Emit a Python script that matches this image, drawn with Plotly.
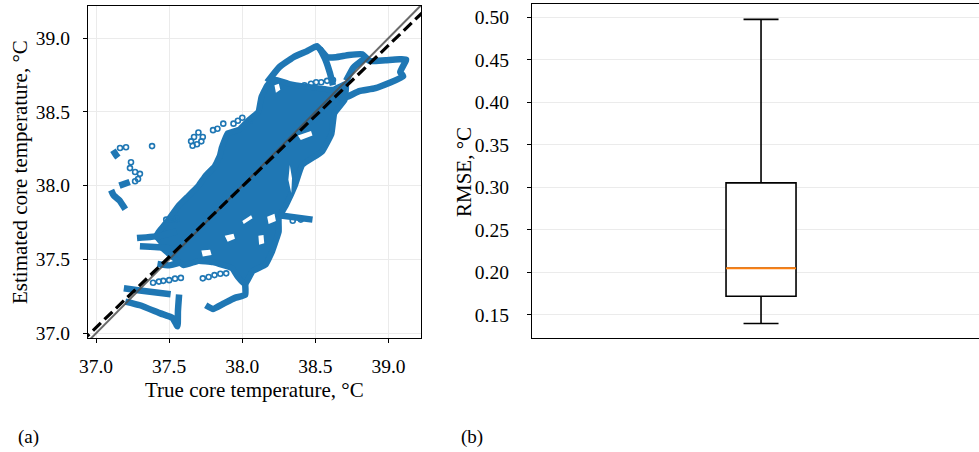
import plotly.graph_objects as go

BLUE = "#1f77b4"

# ---------------- panel (a) data ----------------
# dense core region of the scatter (outline of overlapping trajectories)
core_x = [37.40, 37.43, 37.48, 37.56, 37.62, 37.70, 37.75, 37.81, 37.845, 37.86, 37.90, 37.98, 38.04, 38.11,
          38.13, 38.17, 38.22, 38.32, 38.45, 38.62, 38.71, 38.70, 38.63, 38.61, 38.545, 38.41, 38.36, 38.30,
          38.25, 38.25, 38.205, 38.16, 38.07, 38.02, 37.97, 37.93, 37.80, 37.70, 37.60, 37.52, 37.45]
core_y = [37.64, 37.69, 37.75, 37.86, 37.92, 38.00, 38.07, 38.13, 38.20, 38.26, 38.355, 38.38, 38.44, 38.50,
          38.60, 38.68, 38.72, 38.69, 38.67, 38.65, 38.69, 38.58, 38.49, 38.35, 38.23, 38.14, 38.00, 37.87,
          37.78, 37.69, 37.555, 37.465, 37.42, 37.33, 37.38, 37.44, 37.48, 37.49, 37.46, 37.52, 37.58]

# empty pockets inside the dense region, separated by None
gap_x = [38.325, 38.34, 38.335, 38.315, None,
         38.17, 38.22, 38.23, 38.18, None,
         37.88, 37.94, 37.95, 37.90, None,
         38.38, 38.47, 38.48, 38.40, None,
         38.11, 38.145, 38.15, 38.115, None,
         37.72, 37.78, 37.79, 37.73, None,
         38.22, 38.25, 38.26, 38.23, None,
         38.00, 38.06, 38.07, 38.01]
gap_y = [38.14, 38.05, 37.95, 38.04, None,
         37.79, 37.81, 37.76, 37.74, None,
         37.66, 37.675, 37.64, 37.62, None,
         38.34, 38.37, 38.34, 38.31, None,
         37.66, 37.665, 37.61, 37.60, None,
         37.56, 37.565, 37.53, 37.52, None,
         38.68, 38.69, 38.65, 38.63, None,
         37.76, 37.80, 37.78, 37.74]

# trajectories (dense runs of points), separated by None
traj_x = [38.02, 38.02, 37.95, 37.87, 37.80, 37.75, None,
          38.25, 38.48, None,
          37.28, 37.44, 37.55, None,
          37.30, 37.48, 37.56, None,
          37.42, 37.50, 37.58, None,
          37.20, 37.30, 37.44, 37.523, 37.557, 37.56, 37.568, None,
          37.19, 37.30, 37.51, None,
          38.17, 38.25, 38.35, 38.44, 38.51, 38.58, 38.64, 38.73, 38.82, 38.87, 38.98, 39.12, 39.08, 39.10,
          38.91, 38.80, 38.71, 38.66, None,
          38.85, 38.76, 38.71, None,
          38.53, 38.57, 38.60, 38.62, None,
          37.103, 37.12, 37.16, 37.20, None,
          37.16, 37.23, None,
          37.116, 37.137, 37.15]
traj_y = [37.33, 37.26, 37.24, 37.20, 37.165, 37.19, None,
          37.80, 37.77, None,
          37.645, 37.66, 37.69, None,
          37.59, 37.58, 37.56, None,
          37.47, 37.46, 37.48, None,
          37.215, 37.19, 37.135, 37.104, 37.047, 37.15, 37.262, None,
          37.305, 37.29, 37.265, None,
          38.70, 38.80, 38.87, 38.91, 38.945, 38.87, 38.87, 38.885, 38.89, 38.845, 38.85, 38.855, 38.77, 38.74,
          38.66, 38.64, 38.60, 38.60, None,
          38.87, 38.80, 38.71, None,
          38.93, 38.85, 38.76, 38.68, None,
          37.97, 37.935, 37.90, 37.84, None,
          38.00, 38.025, None,
          38.24, 38.207, 38.19]

# isolated (sparse) points
sparse_x = [37.164, 37.205, 37.383, 37.239, 37.232, 37.267, 37.30, 37.287, 37.267,
            37.65, 37.67, 37.70, 37.72, 37.66, 37.69, 37.73, 37.80, 37.83, 37.87, 37.94, 37.97, 38.00, 38.05,
            38.425, 38.47, 38.505, 38.54, 38.58, 38.62,
            37.39, 37.43, 37.46, 37.50, 37.54, 37.58, 37.73, 37.77, 37.81, 37.85, 37.89,
            37.48, 37.52, 37.55, 38.345, 38.40]
sparse_y = [38.255, 38.26, 38.268, 38.159, 38.119, 38.092, 38.08, 38.045, 38.03,
            38.30, 38.33, 38.36, 38.30, 38.27, 38.28, 38.33, 38.376, 38.385, 38.42, 38.42, 38.44, 38.46, 38.44,
            38.68, 38.69, 38.70, 38.70, 38.71, 38.715,
            37.342, 37.35, 37.355, 37.36, 37.37, 37.375, 37.372, 37.381, 37.394, 37.403, 37.406,
            37.77, 37.77, 37.775, 37.762, 37.77]

# reference lines: identity and fitted regression
line_x = [36.9, 39.3]
ident_y = [36.9, 39.3]
fit_y = [36.943, 39.238]

# ---------------- panel (b) data ----------------
box_pos = [1.0]
box_halfwidth = 0.25
rmse_q1 = [0.172]
rmse_median = [0.205]
rmse_q3 = [0.3053]
rmse_low = [0.140]
rmse_high = [0.4976]

fig = go.Figure()

fig.add_trace(go.Scatter(x=core_x, y=core_y, mode="lines", fill="toself", fillcolor=BLUE,
                         line=dict(color=BLUE, width=6, shape="spline", smoothing=0.3),
                         hoverinfo="skip", showlegend=False, xaxis="x", yaxis="y"))
fig.add_trace(go.Scatter(x=gap_x, y=gap_y, mode="lines", fill="toself", fillcolor="white",
                         line=dict(color="white", width=0),
                         hoverinfo="skip", showlegend=False, xaxis="x", yaxis="y"))
fig.add_trace(go.Scatter(x=traj_x, y=traj_y, mode="lines",
                         line=dict(color=BLUE, width=6.5, shape="spline", smoothing=0.4),
                         connectgaps=False, showlegend=False, xaxis="x", yaxis="y"))
fig.add_trace(go.Scatter(x=sparse_x, y=sparse_y, mode="markers",
                         marker=dict(symbol="circle-open", size=5, color=BLUE, line=dict(width=1.6)),
                         showlegend=False, xaxis="x", yaxis="y"))
fig.add_trace(go.Scatter(x=line_x, y=ident_y, mode="lines", line=dict(color="rgba(80,80,80,0.85)", width=2),
                         showlegend=False, xaxis="x", yaxis="y"))
fig.add_trace(go.Scatter(x=line_x, y=fit_y, mode="lines", line=dict(color="black", width=3.2, dash="11px,5px"),
                         showlegend=False, xaxis="x", yaxis="y"))

fig.add_trace(go.Box(x=box_pos, q1=rmse_q1, median=rmse_median, q3=rmse_q3,
                     lowerfence=rmse_low, upperfence=rmse_high, width=2 * box_halfwidth,
                     whiskerwidth=0.5, fillcolor="white", line=dict(color="black", width=1.6),
                     boxpoints=False, showlegend=False, hoverinfo="skip", xaxis="x2", yaxis="y2"))
fig.add_trace(go.Scatter(x=[box_pos[0] - box_halfwidth, box_pos[0] + box_halfwidth],
                         y=[rmse_median[0], rmse_median[0]], mode="lines",
                         line=dict(color="#ff7f0e", width=2), showlegend=False, xaxis="x2", yaxis="y2"))

TICKFONT = dict(family="Liberation Serif", size=19.5, color="black")
TITLEFONT = dict(family="Liberation Serif", size=21, color="black")
axis_common = dict(showline=True, mirror=True, linecolor="black", linewidth=1.3,
                   ticks="outside", ticklen=4, tickwidth=1.2, tickcolor="black",
                   showgrid=True, gridcolor="#ebebeb", gridwidth=1, zeroline=False,
                   tickfont=TICKFONT, automargin=False)

fig.update_layout(
    width=979, height=452, margin=dict(l=0, r=0, t=0, b=0),
    paper_bgcolor="white", plot_bgcolor="white", showlegend=False,
    xaxis=dict(domain=[88 / 979, 421 / 979], range=[36.945, 39.222], tickvals=[37.0, 37.5, 38.0, 38.5, 39.0],
               tickformat=".1f", ticklabelstandoff=6, anchor="y", **axis_common),
    yaxis=dict(domain=[1 - 338 / 452, 1 - 6 / 452], range=[36.968, 39.217], tickvals=[37.0, 37.5, 38.0, 38.5, 39.0],
               tickformat=".1f", ticklabelstandoff=9, anchor="x", **axis_common),
    xaxis2=dict(domain=[532 / 979, 1.0], range=[-0.636, 2.557], showline=True, mirror=True, linecolor="black",
                linewidth=1.3, showticklabels=False, ticks="", showgrid=False, zeroline=False, anchor="y2"),
    yaxis2=dict(domain=[1 - 338 / 452, 1 - 4.3 / 452], range=[0.1229, 0.5153], dtick=0.05, tick0=0.15,
                tickformat=".2f", ticklabelstandoff=14, anchor="x2", **axis_common),
)

ann = [
    dict(text="Estimated core temperature, °C", x=20 / 979, y=1 - 172 / 452, textangle=-90, font=TITLEFONT),
    dict(text="True core temperature, °C", x=254.5 / 979, y=1 - 390 / 452, font=TITLEFONT),
    dict(text="RMSE, °C", x=464 / 979, y=1 - 172 / 452, textangle=-90, font=TITLEFONT),
    dict(text="(a)", x=28 / 979, y=1 - 437 / 452, font=dict(family="Liberation Serif", size=19, color="black")),
    dict(text="(b)", x=472 / 979, y=1 - 437 / 452, font=dict(family="Liberation Serif", size=19, color="black")),
]
for a in ann:
    fig.add_annotation(xref="paper", yref="paper", showarrow=False, xanchor="center", yanchor="middle", **a)

fig.write_html("out.html", config={"displayModeBar": False},
               post_script="document.body.style.margin='0px';document.body.style.overflow='hidden';")
